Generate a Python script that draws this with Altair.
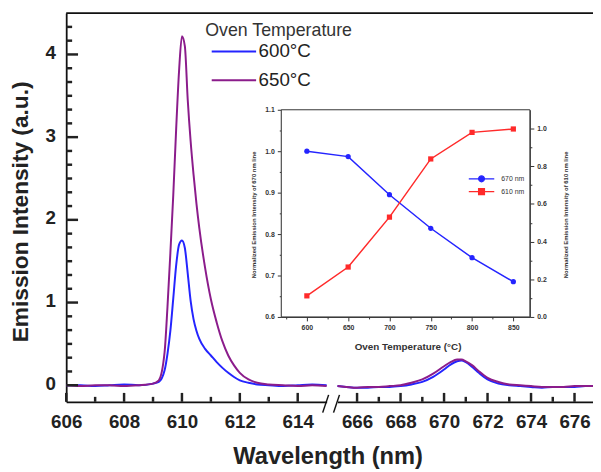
import altair as alt
import pandas as pd

F = "Liberation Sans"

# ---- main spectra, left segment (nm, a.u.) ----
wl_left = [606.0, 606.5, 607.0, 607.5, 608.0, 608.5, 609.0, 609.2, 609.4, 609.5, 609.6, 609.7,
           609.8, 609.9, 610.0, 610.1, 610.2, 610.3, 610.4, 610.5, 610.6, 610.8, 611.0, 611.2,
           611.4, 611.6, 611.8, 612.0, 612.3, 612.6, 613.0, 613.5, 614.0, 614.5, 615.0]
i600_left = [0.0, 0.0, -0.01, 0.0, 0.01, 0.0, 0.02, 0.04, 0.18, 0.38, 0.66, 1.05,
             1.45, 1.7, 1.75, 1.66, 1.35, 1.02, 0.8, 0.66, 0.56, 0.44, 0.36, 0.28,
             0.21, 0.15, 0.1, 0.06, 0.03, 0.01, 0.0, -0.01, 0.0, 0.01, 0.0]
i650_left = [0.0, -0.01, 0.0, 0.0, -0.01, 0.0, 0.02, 0.06, 0.4, 0.95, 1.6, 2.3,
             3.1, 3.8, 4.22, 4.1, 3.45, 2.95, 2.55, 2.2, 1.9, 1.42, 1.04, 0.76,
             0.53, 0.36, 0.24, 0.15, 0.07, 0.03, 0.01, 0.0, -0.01, 0.0, -0.01]

# ---- main spectra, right segment ----
wl_right = [665.1, 665.5, 666.0, 666.5, 667.0, 667.5, 668.0, 668.5, 669.0, 669.5, 670.0, 670.3,
            670.6, 670.8, 671.0, 671.3, 671.6, 672.0, 672.5, 673.0, 673.5, 674.0, 674.5, 675.0,
            675.5, 676.0, 676.5, 676.85]
i600_right = [-0.01, -0.02, -0.03, -0.03, -0.02, -0.02, -0.01, 0.01, 0.04, 0.1, 0.19, 0.25,
              0.29, 0.3, 0.28, 0.22, 0.15, 0.07, 0.02, 0.0, -0.01, -0.02, -0.03, -0.02,
              -0.02, -0.02, -0.01, -0.01]
i650_right = [-0.01, -0.02, -0.03, -0.02, -0.02, -0.01, 0.0, 0.03, 0.07, 0.14, 0.23, 0.28,
              0.31, 0.31, 0.29, 0.24, 0.17, 0.09, 0.04, 0.01, 0.0, -0.01, -0.02, -0.02,
              -0.02, -0.01, -0.01, -0.01]

temps_main = ["600°C", "650°C"]

# ---- inset ----
oven_T = [600, 650, 700, 750, 800, 850]
norm670 = [1.0, 0.987, 0.895, 0.814, 0.743, 0.685]
norm610 = [0.112, 0.265, 0.53, 0.839, 0.98, 0.998]
inset_series = ["670 nm", "610 nm"]

# tick positions
xl_major = [606, 608, 610, 612, 614]
xl_minor = [607, 609, 611, 613]
xr_major = [666, 668, 670, 672, 674, 676]
xr_minor = [667, 669, 671, 673, 675]
y_major = [0, 1, 2, 3, 4]
y_minor = [round(k / 6, 4) for k in range(1, 27) if k % 6 != 0]
ix_major = [600, 650, 700, 750, 800, 850]
ix_minor = [575, 625, 675, 725, 775, 825]
iyl_major = [0.6, 0.7, 0.8, 0.9, 1.0, 1.1]
iyl_minor = [0.65, 0.75, 0.85, 0.95, 1.05]
iyr_major = [0.0, 0.2, 0.4, 0.6, 0.8, 1.0]
iyr_minor = [0.1, 0.3, 0.5, 0.7, 0.9]

BLUE = "#2424ff"
PURPLE = "#8b1c8b"
RED = "#ff2a2a"
AX = "#111111"
TK = "#222222"
IAX = "#333333"

df_left = pd.DataFrame({"wl": wl_left * 2, "val": i600_left + i650_left,
                        "temp": [temps_main[0]] * len(wl_left) + [temps_main[1]] * len(wl_left)})
df_right = pd.DataFrame({"wl": wl_right * 2, "val": i600_right + i650_right,
                         "temp": [temps_main[0]] * len(wl_right) + [temps_main[1]] * len(wl_right)})
df_in = pd.DataFrame({"T": oven_T, "n670": norm670, "n610": norm610})
df_in_long = pd.DataFrame({"T": oven_T * 2, "v": norm670 + norm610,
                           "series": [inset_series[0]] * 6 + [inset_series[1]] * 6})

W, H = 534, 394
SC1 = alt.Scale(domain=[606, 615], range=[0, 264], nice=False, zero=False)
SC2 = alt.Scale(domain=[665.1, 676.85], range=[275, 534], nice=False, zero=False)
SY = alt.Scale(domain=[-0.2, 4.5], nice=False, zero=False)
SIX = alt.Scale(domain=[569, 870], range=[218, 470], nice=False, zero=False)
SIYL = alt.Scale(domain=[0.6, 1.1], range=[308, 98], nice=False, zero=False)
SIYR = alt.Scale(domain=[0, 1.1], range=[308, 98], nice=False, zero=False)
SCOL = alt.Scale(domain=temps_main, range=[BLUE, PURPLE])

main_legend = alt.Legend(
    title="Oven Temperature", orient="none", legendX=141, legendY=9, padding=0,
    titleFont=F, titleFontSize=18, titleFontWeight="normal", titleColor="#333333",
    titlePadding=1, labelFont=F, labelFontSize=19, labelColor="#222222",
    symbolType="M-2.25,0H2.25", symbolSize=400, symbolStrokeWidth=2,
    symbolOffset=18, labelOffset=14, rowPadding=8)

x1_axis = alt.Axis(orient="bottom", values=xl_major, ticks=False, tickSize=0, domain=True,
                   domainColor=AX, domainWidth=1.8, labelFont=F, labelFontSize=19,
                   labelFontWeight="bold", labelColor="#222222", labelPadding=11,
                   labelFlush=False, labelOverlap=False, grid=False, format="d",
                   title="Wavelength (nm)", titleFont=F, titleFontSize=24, titleFontWeight="bold",
                   titleColor="#222222", titleX=265, titleY=56, titleBaseline="middle")
x2_axis = alt.Axis(orient="bottom", values=xr_major, ticks=False, tickSize=0, domain=True,
                   domainColor=AX, domainWidth=1.8, labelFont=F, labelFontSize=19,
                   labelFontWeight="bold", labelColor="#222222", labelPadding=11,
                   labelFlush=False, labelOverlap=False, grid=False, format="d", title=None)
y_axis = alt.Axis(orient="left", values=y_major, ticks=False, tickSize=0, domain=True,
                  domainColor=AX, domainWidth=1.8, labelFont=F, labelFontSize=19,
                  labelFontWeight="bold", labelColor="#222222", labelPadding=11, grid=False,
                  labelFlush=False, format="d", labelOffset=-2,
                  title="Emission Intensity (a.u.)", titleFont=F, titleFontSize=23,
                  titleFontWeight="bold", titleColor="#222222", titleX=-46, titleY=201,
                  titleBaseline="middle")

seg1 = alt.Chart(df_left).mark_line(strokeWidth=2, interpolate="monotone").encode(
    x=alt.X("wl:Q", scale=SC1, axis=x1_axis),
    y=alt.Y("val:Q", scale=SY, axis=y_axis),
    color=alt.Color("temp:N", scale=SCOL, legend=main_legend),
)
seg2 = alt.Chart(df_right).mark_line(strokeWidth=2, interpolate="monotone").encode(
    x=alt.X("wl:Q", scale=SC2, axis=x2_axis),
    y=alt.Y("val:Q", scale=SY, axis=None),
    color=alt.Color("temp:N", scale=SCOL, legend=None),
)


# inward ticks of the main frame, drawn as rules placed through the scales
def xticks(vals, scale, length):
    return alt.Chart(pd.DataFrame({"t": vals})).mark_rule(color=TK, strokeWidth=2.5).encode(
        x=alt.X("t:Q", scale=scale, axis=None),
        y=alt.value(H), y2=alt.value(H - length))


def yticks(vals, length):
    return alt.Chart(pd.DataFrame({"t": vals})).mark_rule(color=TK, strokeWidth=2.5).encode(
        y=alt.Y("t:Q", scale=SY, axis=None),
        x=alt.value(0), x2=alt.value(length))


one = pd.DataFrame({"t": [0.0], "T": [700.0], "n": [0.8]})


def tick_axis(orient, offset, vals, size, color, width):
    return alt.Axis(orient=orient, offset=offset, values=vals, labels=False, domain=False,
                    grid=False, ticks=True, tickColor=color, tickWidth=width, tickSize=size,
                    title=None)


def x_carrier(field, scale, axis):
    return alt.Chart(one).mark_point(opacity=0).encode(x=alt.X(field + ":Q", scale=scale, axis=axis))


def y_carrier(field, scale, axis):
    return alt.Chart(one).mark_point(opacity=0).encode(y=alt.Y(field + ":Q", scale=scale, axis=axis))


tick_layers = [
    xticks(xl_major, SC1, 9), xticks(xl_minor, SC1, 5),
    xticks(xr_major, SC2, 9), xticks(xr_minor, SC2, 5),
    yticks(y_major, 12), yticks(y_minor, 6),
    x_carrier("T", SIX, tick_axis("bottom", -(H - 308), ix_minor, 2, IAX, 1)),
    y_carrier("n", SIYL, tick_axis("left", -218, iyl_minor, 2, IAX, 1)),
    y_carrier("n", SIYR, tick_axis("right", -(W - 470), iyr_minor, 2, IAX, 1)),
]

top_border = alt.Chart(one).mark_rule(color=AX, strokeWidth=1.8).encode(
    x=alt.value(0), x2=alt.value(W), y=alt.value(0))
brk1 = alt.Chart(one).mark_rule(color=AX, strokeWidth=1.5).encode(
    x=alt.value(260), x2=alt.value(266), y=alt.value(405), y2=alt.value(387))
brk2 = alt.Chart(one).mark_rule(color=AX, strokeWidth=1.5).encode(
    x=alt.value(271), x2=alt.value(277), y=alt.value(405), y2=alt.value(387))

inset_x_axis = alt.Axis(
    orient="bottom", offset=-(H - 308), values=ix_major, tickSize=4, tickColor=IAX,
    domainColor=IAX, labelFont=F, labelFontSize=7, labelFontWeight="bold",
    labelColor=IAX, labelPadding=3, labelFlush=False, labelOverlap=False, grid=False,
    format="d", title="Oven Temperature (°C)", titleFont=F, titleFontSize=10,
    titleFontWeight="bold", titleColor=IAX, titleX=346, titleY=30, titleBaseline="middle")
inset_yl_axis = alt.Axis(
    orient="left", offset=-218, values=iyl_major, tickSize=4, tickColor=IAX,
    domainColor=IAX, labelFont=F, labelFontSize=7, labelFontWeight="bold",
    labelColor=IAX, labelPadding=3, labelFlush=False, labelOverlap=False, grid=False,
    format=".1f",
    title="Normalized Emission Intensity of 670 nm line", titleFont=F, titleFontSize=6,
    titleFontWeight="bold", titleColor=IAX, titleX=-28, titleY=204, titleBaseline="middle")
inset_yr_axis = alt.Axis(
    orient="right", offset=-(W - 470), values=iyr_major, tickSize=4, tickColor=IAX,
    domainColor=IAX, labelFont=F, labelFontSize=7, labelFontWeight="bold",
    labelColor=IAX, labelPadding=3, labelFlush=False, labelOverlap=False, grid=False,
    format=".1f",
    title="Normalized Emission Intensity of 610 nm line", titleFont=F, titleFontSize=6,
    titleFontWeight="bold", titleColor=IAX, titleX=36, titleY=204, titleAngle=270,
    titleBaseline="middle")

frame_df = pd.DataFrame({"x0": [569], "x1": [870], "y0": [0.6], "y1": [1.1]})
inset_frame = alt.Chart(frame_df).mark_rect(fill="white", stroke=IAX, strokeWidth=1).encode(
    x=alt.X("x0:Q", scale=SIX, axis=inset_x_axis), x2="x1:Q",
    y=alt.Y("y0:Q", scale=SIYL, axis=inset_yl_axis), y2="y1:Q")

blue_line = alt.Chart(df_in).mark_line(color=BLUE, strokeWidth=1.5).encode(
    x=alt.X("T:Q", scale=SIX, axis=None), y=alt.Y("n670:Q", scale=SIYL, axis=None))
blue_pts = alt.Chart(df_in).mark_point(color=BLUE, filled=True, opacity=1, size=28, shape="circle").encode(
    x=alt.X("T:Q", scale=SIX, axis=None), y=alt.Y("n670:Q", scale=SIYL, axis=None))
red_line = alt.Chart(df_in).mark_line(color=RED, strokeWidth=1.5).encode(
    x=alt.X("T:Q", scale=SIX, axis=None), y=alt.Y("n610:Q", scale=SIYR, axis=inset_yr_axis))
red_pts = alt.Chart(df_in).mark_point(color=RED, filled=True, opacity=1, size=28, shape="square").encode(
    x=alt.X("T:Q", scale=SIX, axis=None), y=alt.Y("n610:Q", scale=SIYR, axis=None))

inset_legend = alt.Legend(
    title=None, orient="none", legendX=407, legendY=164, padding=0,
    labelFont=F, labelFontSize=7, labelColor=IAX,
    symbolSize=36, symbolStrokeWidth=1.2, symbolOpacity=1, symbolOffset=10,
    labelOffset=16, rowPadding=1)
SER_COL = alt.Scale(domain=inset_series, range=[BLUE, RED])
SER_SHP = alt.Scale(domain=inset_series,
                    range=["M-4.3,0H4.3M-1,0A1,1,0,1,0,1,0A1,1,0,1,0,-1,0Z",
                           "M-4.3,0H4.3M-1,-1H1V1H-1Z"])
legend_dummy = alt.Chart(df_in_long).mark_point(opacity=0, filled=True).encode(
    x=alt.X("T:Q", scale=SIX, axis=None), y=alt.Y("v:Q", scale=SIYR, axis=None),
    fill=alt.Fill("series:N", scale=SER_COL, legend=inset_legend),
    stroke=alt.Stroke("series:N", scale=SER_COL, legend=inset_legend),
    shape=alt.Shape("series:N", scale=SER_SHP, legend=inset_legend),
)

chart = alt.layer(
    seg1, seg2, *tick_layers,
    top_border, brk1, brk2,
    inset_frame, blue_line, red_line, blue_pts, red_pts, legend_dummy,
).resolve_scale(
    x="independent", y="independent", color="independent",
    fill="independent", stroke="independent", shape="independent",
).properties(
    width=W, height=H,
    autosize=alt.AutoSizeParams(type="none"),
    padding={"left": 59, "top": 2, "right": 0, "bottom": 68},
).configure_view(stroke=None)

chart.save("out.html", embed_options={"renderer": "svg", "actions": False})
